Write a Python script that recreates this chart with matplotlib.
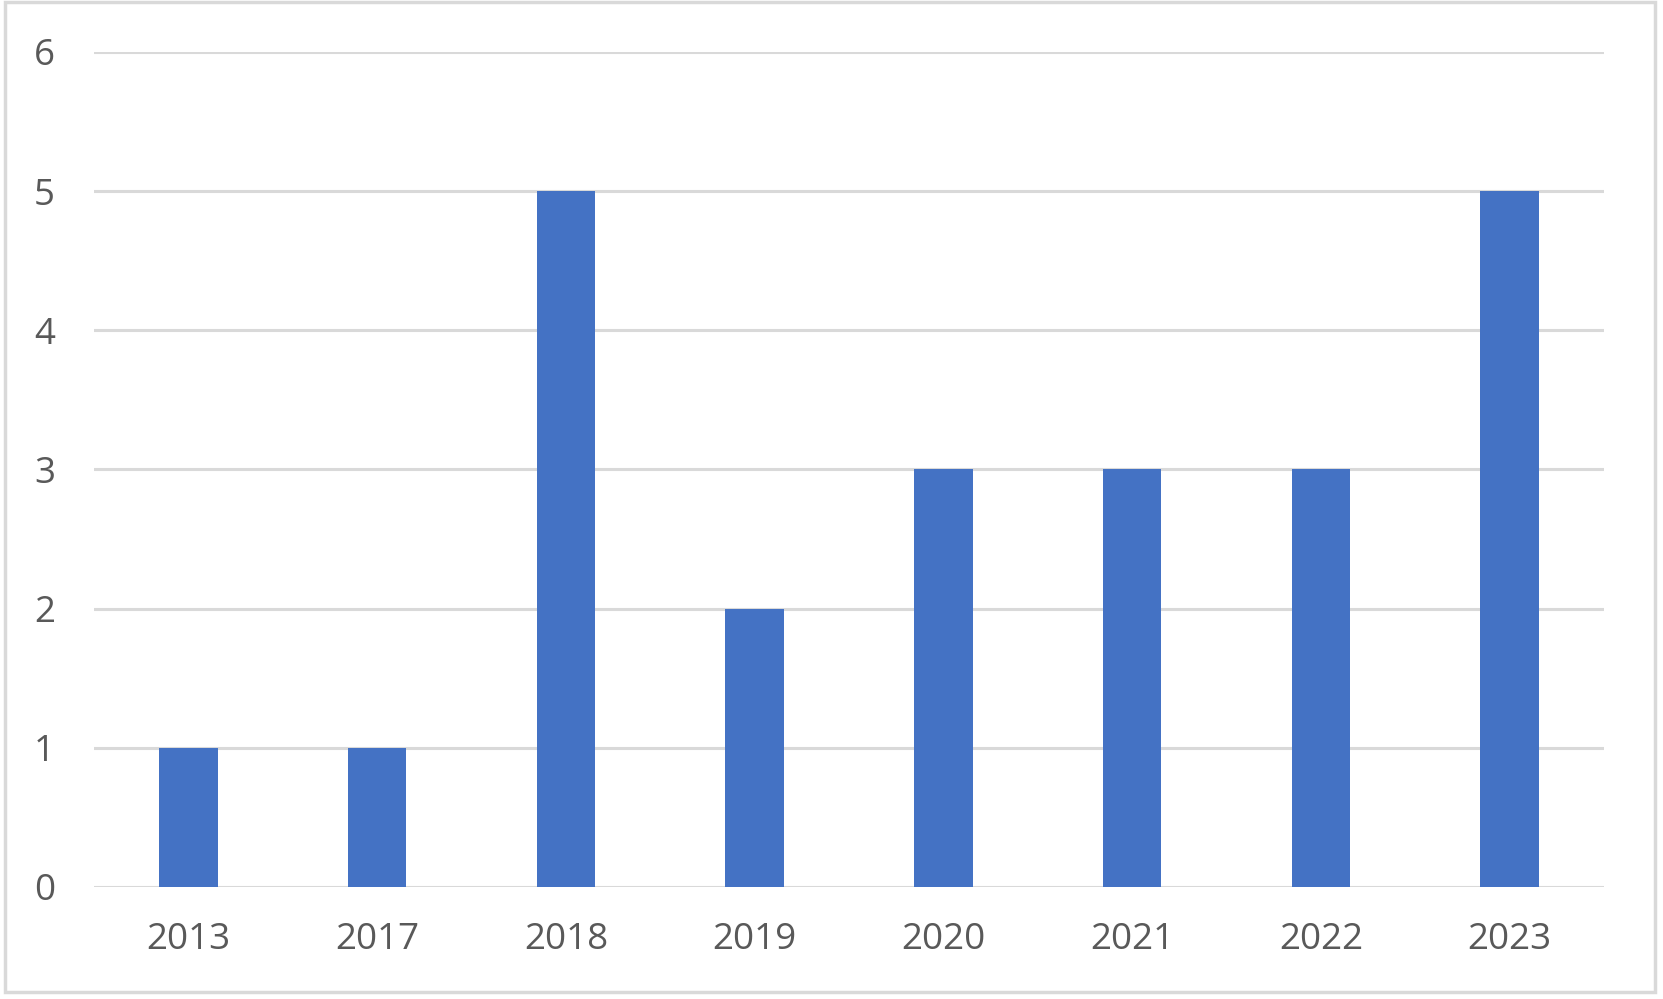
import matplotlib.pyplot as plt
from matplotlib.patches import Rectangle

years = ['2013', '2017', '2018', '2019', '2020', '2021', '2022', '2023']
counts = [1, 1, 5, 2, 3, 3, 3, 5]

plt.rcParams['font.family'] = ['Open Sans', 'DejaVu Sans']

fig = plt.figure(figsize=(16.63, 9.99), dpi=100)
ax = fig.add_axes([94/1663, 1-887/999, 1510/1663, 835/999])

x = range(len(years))
ax.bar(x, counts, width=0.31, color='#4472C4', zorder=3)

ax.set_xlim(-0.5, len(years)-0.5)
ax.set_ylim(0, 6)
ax.set_yticks(range(0, 7))
ax.set_xticks(list(x))
ax.set_xticklabels(years)

ax.grid(axis='y', color='#d9d9d9', linewidth=2.2, zorder=0)
for s in ax.spines.values():
    s.set_visible(False)
ax.tick_params(length=0, labelsize=26.5, colors='#595959')
ax.tick_params(axis='y', pad=28)
ax.tick_params(axis='x', pad=25)

# chart border
fig.patches.append(Rectangle((5/1663, 1-992/999), 1650/1663, 990/999,
                             transform=fig.transFigure, fill=False,
                             edgecolor='#d9d9d9', linewidth=2.5))

fig.savefig('out.png', dpi=100)
